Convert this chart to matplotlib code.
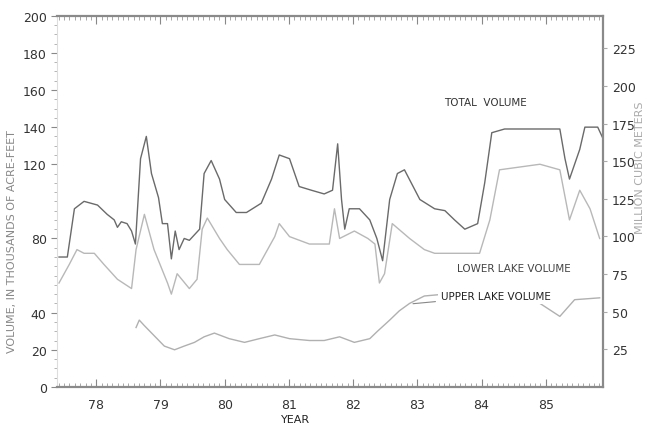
import matplotlib.pyplot as plt
from matplotlib.ticker import MultipleLocator, FixedLocator

# lake storage, thousand acre-feet, by (fractional) water year
total_year = [77.42, 77.55, 77.66, 77.81, 78.02, 78.17, 78.28, 78.33, 78.39, 78.48,
              78.55, 78.61, 78.69, 78.78, 78.86, 78.97, 79.03, 79.11, 79.17, 79.23,
              79.29, 79.37, 79.45, 79.53, 79.61, 79.68, 79.79, 79.92, 80.00, 80.18,
              80.34, 80.57, 80.73, 80.85, 81.01, 81.16, 81.35, 81.55, 81.68, 81.76,
              81.82, 81.87, 81.94, 82.10, 82.26, 82.37, 82.46, 82.57, 82.69, 82.80,
              83.04, 83.27, 83.43, 83.58, 83.74, 83.94, 84.05, 84.16, 84.36, 84.91,
              85.22, 85.30, 85.37, 85.45, 85.53, 85.61, 85.81, 85.89]
total_vol = [70, 70, 96, 100, 98, 93, 90, 86, 89, 88,
             84, 77, 123, 135, 115, 102, 88, 88, 69, 84,
             74, 80, 79, 82, 85, 115, 122, 112, 101, 94,
             94, 99, 112, 125, 123, 108, 106, 104, 106, 131,
             101, 85, 96, 96, 90, 80, 68, 101, 115, 117,
             101, 96, 95, 90, 85, 88, 110, 137, 139, 139,
             139, 123, 112, 120, 128, 140, 140, 134]

lower_year = [77.42, 77.58, 77.70, 77.81, 77.97, 78.12, 78.33, 78.55, 78.62, 78.75,
              78.90, 79.11, 79.17, 79.26, 79.45, 79.57, 79.65, 79.73, 79.92, 80.04,
              80.23, 80.54, 80.78, 80.85, 81.01, 81.32, 81.63, 81.71, 81.79, 82.02,
              82.23, 82.34, 82.41, 82.49, 82.61, 82.88, 83.11, 83.27, 83.66, 83.97,
              84.13, 84.28, 84.91, 85.22, 85.37, 85.53, 85.69, 85.84]
lower_vol = [56, 66, 74, 72, 72, 66, 58, 53, 74, 93,
             74, 56, 50, 61, 53, 58, 85, 91, 80, 74,
             66, 66, 81, 88, 81, 77, 77, 96, 80, 84,
             80, 77, 56, 61, 88, 80, 74, 72, 72, 72,
             90, 117, 120, 117, 90, 106, 96, 80]

upper_year = [78.62, 78.67, 78.75, 79.06, 79.22, 79.37, 79.53, 79.68, 79.84, 80.07,
              80.31, 80.54, 80.78, 81.01, 81.32, 81.55, 81.79, 82.02, 82.26, 82.38,
              82.57, 82.72, 82.88, 83.11, 83.43, 84.28, 84.91, 85.22, 85.45, 85.84]
upper_vol = [32, 36, 33, 22, 20, 22, 24, 27, 29, 26,
             24, 26, 28, 26, 25, 25, 27, 24, 26, 30,
             36, 41, 45, 49, 50, 48, 45, 38, 47, 48]

year_ticks = [78, 79, 80, 81, 82, 83, 84, 85]
left_ticks = [0, 20, 40, 80, 120, 140, 160, 180, 200]
right_ticks = [25, 50, 75, 100, 125, 150, 175, 200, 225]
ACFT_TO_M3 = 1.2335  # thousand acre-ft -> million cubic meters

fig = plt.figure(figsize=(6.56, 4.31), dpi=100)
ax = fig.add_axes([0.087, 0.1, 0.832, 0.861])

ax.plot(total_year, total_vol, color="#6a6a6a", lw=1.0)
ax.plot(lower_year, lower_vol, color="#b8b8b8", lw=1.0)
ax.plot(upper_year, upper_vol, color="#b0b0b0", lw=1.0)

ax.set_xlim(77.39, 85.89)
ax.set_ylim(0, 200)

ax.xaxis.set_major_locator(FixedLocator(year_ticks))
ax.xaxis.set_minor_locator(MultipleLocator(1 / 12))
ax.set_xticklabels([str(y) for y in year_ticks], fontsize=9, color="#333333")
ax.tick_params(axis="x", which="major", direction="in", length=6, top=True,
               color="#888888", pad=8)
ax.tick_params(axis="x", which="minor", direction="in", length=3, top=True,
               color="#999999")

ax.yaxis.set_major_locator(FixedLocator(left_ticks))
ax.yaxis.set_minor_locator(MultipleLocator(5))
ax.set_yticklabels([str(v) for v in left_ticks], fontsize=9, color="#333333")
ax.tick_params(axis="y", which="major", direction="out", length=4, color="#888888")
ax.tick_params(axis="y", which="minor", direction="out", length=2, color="#aaaaaa")

for side in ["top", "bottom", "right"]:
    ax.spines[side].set_color("#8a8a8a")
    ax.spines[side].set_linewidth(1.6)
ax.spines["left"].set_color("#dddddd")

ax2 = ax.twinx()
ax2.set_ylim(0, 200 * ACFT_TO_M3)
ax2.yaxis.set_major_locator(FixedLocator(right_ticks))
ax2.set_yticklabels([str(v) for v in right_ticks], fontsize=9, color="#333333")
ax2.tick_params(axis="y", direction="out", length=3, color="#aaaaaa")
for side in ["top", "bottom", "left", "right"]:
    ax2.spines[side].set_visible(False)

fig.text(0.451, 0.014, "YEAR", fontsize=8, color="#222222", ha="center", va="bottom")
fig.text(0.018, 0.44, "VOLUME, IN THOUSANDS OF ACRE-FEET", rotation=90,
         fontsize=8, color="#888888", ha="center", va="center")
fig.text(0.975, 0.61, "MILLION CUBIC METERS", rotation=90,
         fontsize=8, color="#aaaaaa", ha="center", va="center")

# curve labels sit on white so the lines pass behind them
label_box = dict(facecolor="white", edgecolor="none", pad=2)
ax.text(83.42, 153.5, "TOTAL  VOLUME", fontsize=7.5, color="#333333",
        va="center", bbox=label_box, zorder=5)
ax.text(83.62, 64.2, "LOWER LAKE VOLUME", fontsize=7.5, color="#444444",
        va="center", bbox=label_box, zorder=5)
ax.annotate("UPPER LAKE VOLUME", xy=(82.89, 44.7), xytext=(83.37, 49),
            fontsize=7.5, color="#222222", va="center", bbox=label_box, zorder=5,
            arrowprops=dict(arrowstyle="-", color="#888888", lw=0.8))

fig.savefig("out.png", dpi=100)
